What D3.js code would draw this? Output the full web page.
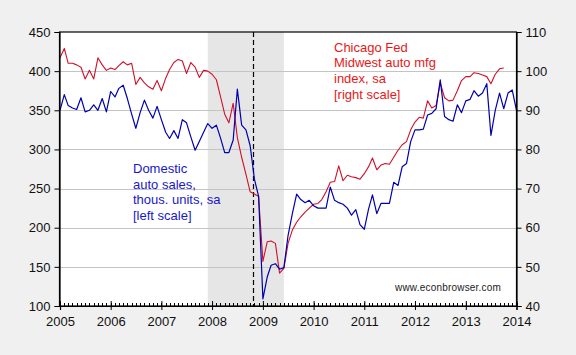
<!DOCTYPE html>
<html>
<head>
<meta charset="utf-8">
<script src="https://cdn.jsdelivr.net/npm/d3@7"></script>
<style>
  html, body { margin: 0; padding: 0; background: #f0f0f0; }
  svg { display: block; font-family: "Liberation Sans", Arial, sans-serif; }
</style>
</head>
<body>
<svg id="chart" width="576" height="355"></svg>
<script>
// ---------- data ----------
const startMonth = new Date(2005, 0, 1);
const endMonth = new Date(2014, 0, 1);

// Domestic auto sales, thousands of units, SA (left scale), monthly from Jan 2005
const autoSales = [
  350, 370, 356, 353, 351, 366, 348, 350, 357, 350, 365, 348,
  374, 367, 378, 382, 365, 345, 327, 347, 363, 350, 340, 355,
  338, 322, 314, 324, 314, 338, 334, 316, 299, 310, 322, 333,
  327, 331, 315, 296, 296, 312, 377, 331, 325, 305, 262, 240,
  109, 137, 152, 154, 147, 149, 190, 218, 243, 236, 232, 235,
  228, 225, 225, 225, 252, 235, 232, 230, 225, 216, 223, 204,
  198, 224, 242, 218, 231, 231, 231, 258, 254, 278, 282, 310,
  325, 325, 326, 344, 346, 352, 389, 342, 338, 336, 357, 347,
  362, 364, 375, 368, 372, 384, 318, 350, 372, 352, 372, 376, 350
];

// Chicago Fed Midwest auto manufacturing index, SA (right scale), monthly from Jan 2005
const cfmmi = [
  103.4, 105.8, 102.0, 102.0, 101.6, 101.0, 98.0, 100.2, 98.0, 103.4, 101.6, 100.2,
  100.8, 100.4, 101.4, 102.4, 101.6, 102.0, 96.6, 98.4, 97.0, 96.0, 95.4, 97.6,
  95.0, 98.2, 100.4, 102.2, 103.0, 102.6, 99.4, 102.2, 101.0, 98.4, 100.2, 100.0,
  99.2, 97.8, 93.6, 89.0, 86.8, 91.8, 83.0, 78.0, 73.6, 69.2, 68.6, 68.0,
  51.4, 56.4, 56.6, 56.0, 48.4, 49.6, 56.0, 59.4, 61.4, 62.8, 64.0, 65.0,
  66.0, 66.2, 67.2, 69.2, 71.6, 71.8, 75.8, 72.0, 73.4, 73.0, 72.8, 72.4,
  73.8, 75.6, 77.8, 74.8, 76.0, 76.4, 76.2, 78.0, 79.8, 81.2, 82.0, 85.0,
  87.0, 88.2, 88.0, 92.4, 90.6, 91.2, 97.0, 93.2, 92.4, 92.6, 95.0, 97.6,
  98.6, 98.6, 99.6, 99.4, 99.0, 98.6, 96.8, 99.2, 100.6, 100.8
];

const leftTicks = [100, 150, 200, 250, 300, 350, 400, 450];
const rightTicks = [40, 50, 60, 70, 80, 90, 100, 110];
const yearTicks = [2005, 2006, 2007, 2008, 2009, 2010, 2011, 2012, 2013, 2014];

const recession = [new Date(2007, 11, 1), new Date(2009, 5, 1)];
const eventDate = new Date(2008, 9, 23);

const salesLabel = ["Domestic", "auto sales,", "thous. units, sa", "[left scale]"];
const indexLabel = ["Chicago Fed", "Midwest auto mfg", "index, sa", "[right scale]"];
const credit = "www.econbrowser.com";

// ---------- layout ----------
const X0 = 59.5, X1 = 516.5, Y0 = 32, Y1 = 306;
const svg = d3.select("#chart");
svg.append("rect").attr("width", 576).attr("height", 355).attr("fill", "#f0f0f0");

const months = d3.timeMonth.range(startMonth, d3.timeMonth.offset(endMonth, 1));

const x = d3.scaleTime().domain([startMonth, endMonth]).range([X0 + 0.5, X1]);
const yL = d3.scaleLinear().domain([100, 450]).range([Y1, Y0]);
const yR = d3.scaleLinear().domain([40, 110]).range([Y1, Y0]);

// plot background
svg.append("rect").attr("x", X0).attr("y", Y0).attr("width", X1 - X0).attr("height", Y1 - Y0)
  .attr("fill", "#ffffff");

// recession band
svg.append("rect")
  .attr("x", x(recession[0])).attr("y", Y0)
  .attr("width", x(recession[1]) - x(recession[0])).attr("height", Y1 - Y0)
  .attr("fill", "#e6e6e6");

// gridlines
svg.append("g").selectAll("line")
  .data(leftTicks.filter(d => d > 100 && d < 450))
  .join("line")
  .attr("x1", X0).attr("x2", X1)
  .attr("y1", d => Math.round(yL(d)) + 0.5).attr("y2", d => Math.round(yL(d)) + 0.5)
  .attr("stroke", "#c4c4c4").attr("stroke-width", 1);

// event line
svg.append("line")
  .attr("x1", Math.round(x(eventDate)) + 0.5).attr("x2", Math.round(x(eventDate)) + 0.5)
  .attr("y1", Y0).attr("y2", Y1)
  .attr("stroke", "#000").attr("stroke-width", 1.2).attr("stroke-dasharray", "5,3");

// lines
const lineL = d3.line().x((d, i) => x(months[i])).y(d => yL(d));
const lineR = d3.line().x((d, i) => x(months[i])).y(d => yR(d));

svg.append("path").datum(cfmmi).attr("d", lineR)
  .attr("fill", "none").attr("stroke", "#d0102a").attr("stroke-width", 1.1)
  .attr("stroke-linejoin", "round");
svg.append("path").datum(autoSales).attr("d", lineL)
  .attr("fill", "none").attr("stroke", "#0000b0").attr("stroke-width", 1.2)
  .attr("stroke-linejoin", "round");

// frame
svg.append("rect").attr("x", X0).attr("y", Y0).attr("width", X1 - X0).attr("height", Y1 - Y0)
  .attr("fill", "none").attr("stroke", "#000").attr("stroke-width", 1.2);

// axes
const fontSize = 13;
const gL = svg.append("g").attr("transform", `translate(${X0},0)`)
  .call(d3.axisLeft(yL).tickValues(leftTicks).tickSize(5).tickPadding(4));
const gR = svg.append("g").attr("transform", `translate(${X1},0)`)
  .call(d3.axisRight(yR).tickValues(rightTicks).tickSize(5).tickPadding(4));
[gL, gR].forEach(g => {
  g.select(".domain").attr("stroke", "#000").attr("stroke-width", 1.2);
  g.selectAll(".tick line").attr("stroke", "#000");
  g.selectAll("text").attr("font-size", fontSize).attr("fill", "#111")
    .attr("font-family", "'Liberation Sans', Arial, sans-serif");
});

// minor month ticks (inside)
svg.append("g").selectAll("line")
  .data(months)
  .join("line")
  .attr("x1", d => Math.round(x(d)) + 0.5).attr("x2", d => Math.round(x(d)) + 0.5)
  .attr("y1", Y1).attr("y2", Y1 - 3)
  .attr("stroke", "#000").attr("stroke-width", 1);

const gX = svg.append("g").attr("transform", `translate(0,${Y1})`)
  .call(d3.axisBottom(x)
    .tickValues(yearTicks.map(y => new Date(y, 0, 1)))
    .tickFormat(d3.timeFormat("%Y"))
    .tickSize(4).tickPadding(7));
gX.select(".domain").attr("stroke", "#000").attr("stroke-width", 1.2);
gX.selectAll(".tick line").attr("stroke", "#000").attr("y1", -5).attr("y2", 4);
gX.selectAll("text").attr("font-size", fontSize).attr("fill", "#111")
  .attr("font-family", "'Liberation Sans', Arial, sans-serif");

// annotations
svg.append("text").attr("x", 133).attr("y", 173)
  .attr("font-size", 13).attr("fill", "#1818c8")
  .selectAll("tspan").data(salesLabel).join("tspan")
  .attr("x", 133).attr("dy", (d, i) => i === 0 ? 0 : 15.7).text(d => d);

svg.append("text").attr("x", 334).attr("y", 51.5)
  .attr("font-size", 13).attr("fill", "#e81818")
  .selectAll("tspan").data(indexLabel).join("tspan")
  .attr("x", 334).attr("dy", (d, i) => i === 0 ? 0 : 15.7).text(d => d);

svg.append("text").attr("x", 395).attr("y", 291)
  .attr("font-size", 10).attr("fill", "#222").attr("letter-spacing", 0.2)
  .text(credit);
</script>
</body>
</html>
